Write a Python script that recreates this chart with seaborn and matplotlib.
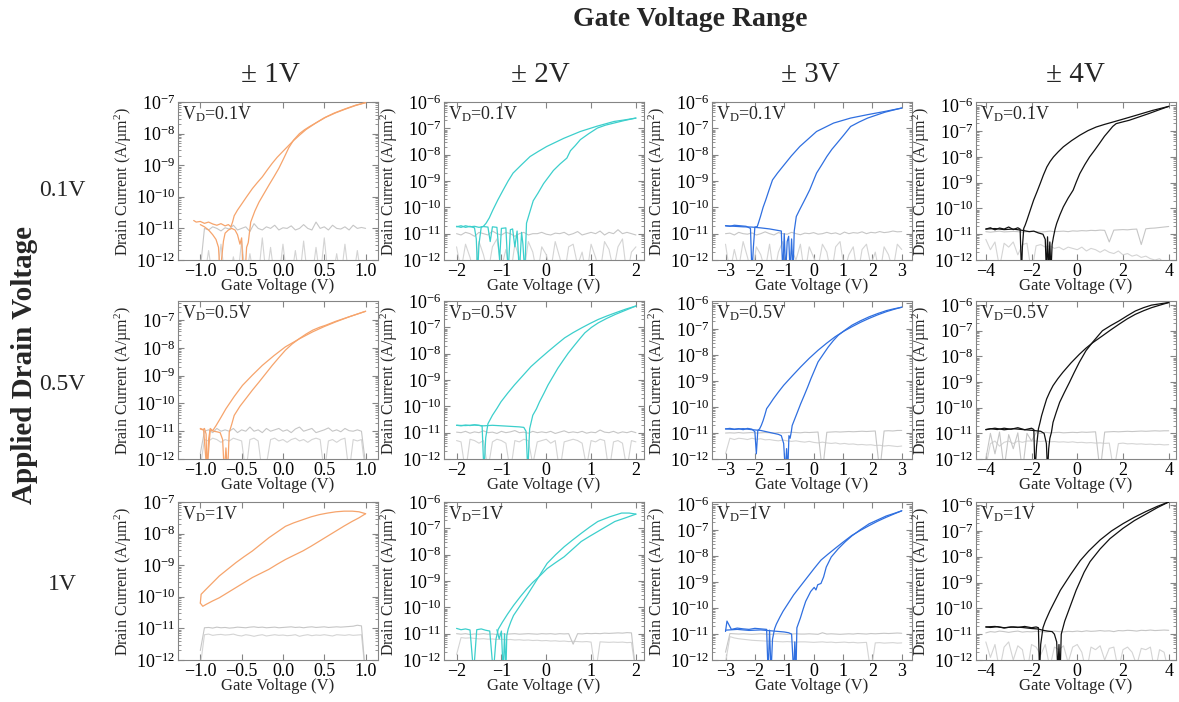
import numpy as np
import matplotlib
matplotlib.use("Agg")
import matplotlib.pyplot as plt
import seaborn as sns
from matplotlib.ticker import LogLocator, NullFormatter

sns.set_style("ticks")
plt.rcParams['font.family'] = ['Liberation Serif', 'DejaVu Serif']
plt.rcParams['mathtext.fontset'] = 'custom'
plt.rcParams['mathtext.rm'] = 'Liberation Serif'
plt.rcParams['mathtext.it'] = 'Liberation Serif:italic'
plt.rcParams['mathtext.bf'] = 'Liberation Serif:bold'
plt.rcParams['axes.unicode_minus'] = True

# ---------------- text ----------------
SUPER_TITLE = "Gate Voltage Range"
COL_TITLES = ["\u00b1 1V", "\u00b1 2V", "\u00b1 3V", "\u00b1 4V"]
ROW_TITLES = ["0.1V", "0.5V", "1V"]
ROW_SIDE_TITLE = "Applied Drain Voltage"
VD_LABELS = ["V$_\\mathrm{D}$=0.1V", "V$_\\mathrm{D}$=0.5V", "V$_\\mathrm{D}$=1V"]
COLORS = ["#f6a46c", "#3ccfcc", "#2f6fe0", "#111111"]
XTICKS = [[-1.0, -0.5, 0.0, 0.5, 1.0], [-2, -1, 0, 1, 2], [-3, -2, -1, 0, 1, 2, 3], [-4, -2, 0, 2, 4]]

# ---------------- sweep voltage grids for gate-leakage traces ----------------
GRID_C1 = [-1.0, -0.95, -0.9, -0.85, -0.8, -0.75, -0.7, -0.65, -0.6, -0.55, -0.5, -0.45, -0.4, -0.35, -0.3, -0.25, -0.2, -0.15, -0.1, -0.05, 0.0, 0.05, 0.1, 0.15, 0.2, 0.25, 0.3, 0.35, 0.4, 0.45, 0.5, 0.55, 0.6, 0.65, 0.7, 0.75, 0.8, 0.85, 0.9, 0.95, 1.0]
GRID_C2 = [-2.0, -1.9, -1.8, -1.7, -1.6, -1.5, -1.4, -1.3, -1.2, -1.1, -1.0, -0.9, -0.8, -0.7, -0.6, -0.5, -0.4, -0.3, -0.2, -0.1, 0.0, 0.1, 0.2, 0.3, 0.4, 0.5, 0.6, 0.7, 0.8, 0.9, 1.0, 1.1, 1.2, 1.3, 1.4, 1.5, 1.6, 1.7, 1.8, 1.9, 2.0]
GRID_C3 = [-3.0, -2.85, -2.7, -2.55, -2.4, -2.25, -2.1, -1.95, -1.8, -1.65, -1.5, -1.35, -1.2, -1.05, -0.9, -0.75, -0.6, -0.45, -0.3, -0.15, 0.0, 0.15, 0.3, 0.45, 0.6, 0.75, 0.9, 1.05, 1.2, 1.35, 1.5, 1.65, 1.8, 1.95, 2.1, 2.25, 2.4, 2.55, 2.7, 2.85, 3.0]
GRID_C4 = [-4.0, -3.8, -3.6, -3.4, -3.2, -3.0, -2.8, -2.6, -2.4, -2.2, -2.0, -1.8, -1.6, -1.4, -1.2, -1.0, -0.8, -0.6, -0.4, -0.2, 0.0, 0.2, 0.4, 0.6, 0.8, 1.0, 1.2, 1.4, 1.6, 1.8, 2.0, 2.2, 2.4, 2.6, 2.8, 3.0, 3.2, 3.4, 3.6, 3.8, 4.0]

# ---------------- drain current (log10 A/um^2) ----------------
# Row 1 (VD = 0.1 V)
R1C1_A_V = [1.0, 0.88, 0.76, 0.64, 0.52, 0.4, 0.28, 0.2, 0.12, 0.06, 0.0, -0.07, -0.13, -0.19, -0.25, -0.31, -0.37, -0.44, -0.5, -0.55, -0.59, -0.61, -0.63, -0.66, -0.7, -0.75, -0.8, -0.85, -0.9, -0.95, -1.0, -1.05, -1.08]
R1C1_A_I = [-7.02, -7.11, -7.22, -7.34, -7.48, -7.66, -7.87, -8.05, -8.24, -8.4, -8.56, -8.75, -8.94, -9.15, -9.37, -9.55, -9.74, -10.0, -10.23, -10.42, -10.6, -10.8, -10.95, -10.88, -10.92, -10.85, -10.9, -10.86, -10.8, -10.84, -10.78, -10.8, -10.75]
R1C1_B_V = [-1.0, -0.95, -0.9, -0.85, -0.81, -0.78, -0.76, -0.74, -0.72, -0.7, -0.66, -0.62, -0.58, -0.55, -0.52, -0.5, -0.48, -0.46, -0.44, -0.42, -0.39, -0.34, -0.29, -0.23, -0.17, -0.11, -0.05, 0.01, 0.07, 0.13, 0.2, 0.26, 0.32, 0.4, 0.5, 0.62, 0.75, 0.88, 1.0]
R1C1_B_I = [-10.88, -10.95, -11.05, -11.2, -11.35, -11.6, -12.5, -11.9, -11.4, -11.15, -11.05, -11.0, -11.05, -11.2, -11.5, -11.3, -12.5, -12.5, -11.6, -11.45, -10.8, -10.45, -10.17, -9.9, -9.63, -9.37, -9.1, -8.78, -8.45, -8.2, -8.0, -7.88, -7.78, -7.66, -7.5, -7.35, -7.22, -7.1, -7.02]
R1C1_GA = [-12.3, -11.0, -11.05, -10.95, -11.0, -11.08, -10.98, -11.02, -10.9, -11.05, -11.0, -10.95, -11.1, -10.85, -11.0, -11.05, -10.95, -11.0, -10.9, -11.05, -10.98, -11.0, -10.92, -11.05, -11.0, -10.88, -11.0, -11.05, -10.8, -11.0, -10.95, -11.05, -10.9, -11.0, -11.02, -10.95, -11.05, -10.9, -11.0, -10.97, -11.0]
R1C1_GB = [-12.0, -12.6, -11.7, -12.6, -12.6, -11.5, -12.6, -12.6, -11.9, -12.6, -11.4, -12.6, -11.8, -12.6, -12.6, -11.3, -12.6, -11.6, -12.6, -12.6, -11.5, -12.6, -12.6, -11.7, -12.6, -11.4, -12.6, -12.6, -11.6, -12.6, -11.3, -12.6, -12.6, -11.8, -12.6, -11.5, -12.6, -12.6, -11.7, -12.6, -12.6]

R1C2_A_V = [2.0, 1.75, 1.51, 1.13, 0.76, 0.39, 0.01, -0.18, -0.36, -0.55, -0.74, -0.85, -0.96, -1.08, -1.19, -1.27, -1.34, -1.4, -1.45, -1.5, -1.53, -1.56, -1.6, -1.7, -1.8, -1.9, -2.0]
R1C2_A_I = [-6.61, -6.68, -6.74, -6.92, -7.12, -7.38, -7.69, -7.88, -8.07, -8.38, -8.7, -9.0, -9.34, -9.72, -10.1, -10.4, -10.6, -10.72, -10.75, -11.4, -12.5, -11.2, -10.78, -10.72, -10.76, -10.7, -10.74]
R1C2_B_V = [-2.0, -1.9, -1.8, -1.7, -1.6, -1.5, -1.4, -1.3, -1.25, -1.2, -1.1, -1.04, -1.0, -0.9, -0.85, -0.8, -0.75, -0.7, -0.65, -0.6, -0.55, -0.52, -0.48, -0.44, -0.37, -0.29, -0.18, -0.06, 0.05, 0.16, 0.31, 0.46, 0.54, 0.65, 0.76, 0.95, 1.14, 1.32, 1.51, 1.75, 2.0]
R1C2_B_I = [-10.72, -10.76, -10.7, -10.74, -10.72, -10.76, -10.73, -10.75, -11.3, -10.74, -10.76, -12.0, -10.8, -10.78, -12.5, -10.85, -10.82, -11.5, -10.9, -12.5, -10.95, -11.4, -12.5, -10.6, -10.2, -9.75, -9.45, -9.1, -8.85, -8.6, -8.35, -8.13, -7.85, -7.65, -7.43, -7.2, -6.99, -6.88, -6.8, -6.7, -6.61]
R1C2_GA = [-11.0, -11.05, -10.95, -11.0, -11.1, -10.95, -11.0, -11.05, -10.9, -11.0, -11.05, -10.95, -11.0, -11.1, -11.0, -10.95, -11.05, -11.0, -11.0, -10.95, -11.02, -11.05, -10.98, -11.0, -10.95, -11.05, -11.0, -10.92, -11.05, -11.0, -10.95, -11.0, -10.9, -11.05, -10.95, -11.0, -10.85, -11.0, -10.95, -11.0, -11.05]
R1C2_GB = [-11.5, -12.4, -11.4, -11.9, -12.6, -11.3, -11.8, -12.5, -11.5, -11.2, -12.3, -11.6, -12.6, -11.4, -11.9, -12.5, -11.3, -11.7, -12.6, -11.5, -11.8, -12.4, -11.3, -11.9, -12.6, -11.5, -11.4, -12.2, -11.7, -12.6, -11.4, -11.9, -12.5, -11.3, -11.6, -12.4, -11.5, -11.2, -12.6, -11.7, -11.5]

R1C3_A_V = [3.0, 2.42, 1.84, 1.26, 0.68, 0.1, -0.47, -0.76, -1.05, -1.23, -1.4, -1.52, -1.63, -1.72, -1.81, -1.88, -1.92, -2.0, -2.05, -2.1, -2.15, -2.3, -2.5, -2.7, -2.85, -3.0]
R1C3_A_I = [-6.23, -6.36, -6.48, -6.61, -6.8, -7.12, -7.69, -8.05, -8.45, -8.7, -8.96, -9.35, -9.72, -10.0, -10.35, -10.6, -10.73, -10.75, -11.5, -12.5, -10.8, -10.72, -10.7, -10.68, -10.72, -10.7]
R1C3_B_V = [-3.0, -2.7, -2.4, -2.1, -1.8, -1.5, -1.3, -1.1, -1.05, -1.0, -0.95, -0.9, -0.85, -0.8, -0.75, -0.7, -0.66, -0.59, -0.48, -0.36, -0.25, -0.13, -0.01, 0.1, 0.28, 0.45, 0.62, 0.8, 1.03, 1.26, 1.55, 1.84, 2.13, 2.42, 2.7, 3.0]
R1C3_B_I = [-10.7, -10.72, -10.74, -10.75, -10.78, -10.82, -10.86, -10.9, -12.5, -11.0, -12.5, -11.3, -11.1, -12.5, -11.2, -12.5, -10.9, -10.35, -10.1, -9.84, -9.6, -9.33, -9.0, -8.7, -8.38, -8.07, -7.8, -7.56, -7.25, -6.93, -6.76, -6.61, -6.5, -6.39, -6.31, -6.23]
R1C3_GA = [-11.0, -10.98, -11.05, -10.95, -11.0, -11.02, -10.97, -11.05, -11.0, -10.93, -11.0, -11.05, -10.96, -11.0, -11.02, -10.95, -11.0, -11.04, -10.98, -11.0, -10.96, -11.02, -11.0, -10.95, -11.0, -10.97, -11.03, -10.94, -11.0, -10.96, -10.98, -10.93, -11.0, -10.95, -10.97, -10.92, -10.96, -10.94, -10.9, -10.93, -10.92]
R1C3_GB = [-11.4, -12.5, -11.6, -12.3, -11.3, -11.9, -12.6, -11.5, -11.8, -12.4, -11.4, -12.6, -11.7, -11.3, -12.5, -11.6, -12.0, -11.4, -12.6, -11.5, -11.9, -12.3, -11.4, -11.7, -12.6, -11.5, -11.3, -12.4, -11.8, -11.5, -12.6, -11.6, -11.4, -12.2, -11.7, -12.6, -11.5, -11.8, -12.4, -11.4, -11.6]

R1C4_A_V = [4.0, 3.28, 2.56, 2.06, 1.55, 1.19, 0.83, 0.47, 0.11, -0.25, -0.61, -0.83, -1.04, -1.19, -1.33, -1.48, -1.62, -1.76, -1.91, -2.05, -2.2, -2.28, -2.34, -2.4, -2.44, -2.5, -2.6, -2.8, -3.0, -3.2, -3.4, -3.6, -3.8, -4.0]
R1C4_A_I = [-6.04, -6.2, -6.39, -6.52, -6.65, -6.74, -6.84, -6.98, -7.16, -7.37, -7.61, -7.8, -8.0, -8.18, -8.39, -8.7, -9.03, -9.35, -9.68, -10.05, -10.45, -10.65, -10.77, -11.5, -12.5, -10.8, -10.75, -10.82, -10.72, -10.8, -10.76, -10.83, -10.75, -10.8]
R1C4_B_V = [-4.0, -3.6, -3.2, -2.8, -2.4, -2.1, -1.9, -1.7, -1.5, -1.4, -1.35, -1.3, -1.25, -1.2, -1.15, -1.1, -1.04, -0.97, -0.9, -0.76, -0.61, -0.4, -0.18, -0.04, 0.11, 0.33, 0.54, 0.76, 0.97, 1.19, 1.41, 1.55, 1.7, 2.0, 2.27, 2.7, 3.13, 3.56, 4.0]
R1C4_B_I = [-10.8, -10.78, -10.82, -10.8, -10.85, -10.9, -10.88, -10.95, -11.0, -11.2, -12.5, -11.1, -12.5, -11.3, -12.5, -11.4, -11.1, -10.8, -10.58, -10.25, -9.94, -9.6, -9.29, -8.97, -8.65, -8.3, -8.0, -7.74, -7.48, -7.2, -6.97, -6.82, -6.71, -6.64, -6.58, -6.45, -6.32, -6.18, -6.04]
R1C4_GA = [-10.9, -10.92, -10.9, -10.88, -10.91, -10.9, -10.89, -10.9, -10.92, -10.9, -10.89, -10.9, -10.91, -10.9, -10.88, -10.9, -10.89, -10.88, -10.9, -10.87, -10.88, -10.86, -10.87, -10.85, -10.86, -10.84, -10.85, -11.3, -10.84, -10.83, -10.82, -10.83, -10.81, -10.8, -11.4, -10.79, -10.77, -10.76, -10.74, -10.72, -10.7]
R1C4_GB = [-11.2, -11.6, -11.3, -12.3, -11.35, -11.5, -11.3, -11.8, -11.4, -11.35, -12.5, -11.45, -11.4, -11.5, -11.45, -11.55, -11.5, -11.6, -11.5, -11.55, -11.6, -11.5, -11.65, -11.55, -11.6, -11.7, -11.6, -11.7, -11.75, -11.65, -11.8, -11.75, -11.85, -11.8, -11.9, -11.85, -11.95, -12.0, -11.95, -12.1, -12.5]

# Row 2 (VD = 0.5 V)
R2C1_A_V = [1.0, 0.96, 0.8, 0.64, 0.5, 0.36, 0.2, 0.03, -0.11, -0.25, -0.37, -0.49, -0.59, -0.69, -0.75, -0.81, -0.85, -0.88, -0.9, -0.92, -0.93, -0.95, -0.97, -1.0]
R2C1_A_I = [-6.68, -6.72, -6.88, -7.06, -7.23, -7.42, -7.67, -7.96, -8.28, -8.63, -8.98, -9.35, -9.75, -10.19, -10.5, -10.8, -10.98, -10.9, -11.3, -12.5, -11.1, -10.9, -10.95, -10.92]
R2C1_B_V = [-1.0, -0.96, -0.92, -0.88, -0.84, -0.8, -0.76, -0.73, -0.71, -0.69, -0.67, -0.65, -0.62, -0.59, -0.52, -0.45, -0.37, -0.29, -0.21, -0.13, -0.05, 0.03, 0.11, 0.2, 0.28, 0.36, 0.44, 0.52, 0.64, 0.8, 0.96, 1.0]
R2C1_B_I = [-10.9, -10.95, -12.5, -10.95, -11.0, -11.02, -11.05, -11.3, -12.5, -11.6, -12.5, -11.04, -10.75, -10.43, -10.1, -9.83, -9.52, -9.23, -8.93, -8.63, -8.35, -8.08, -7.86, -7.66, -7.5, -7.36, -7.26, -7.18, -7.04, -6.88, -6.72, -6.68]
R2C1_GA = [-11.8, -11.0, -10.95, -11.05, -10.9, -11.0, -10.95, -11.0, -10.9, -11.05, -10.95, -11.0, -10.85, -11.0, -10.95, -11.05, -10.9, -11.0, -10.95, -10.9, -11.0, -10.95, -11.05, -10.92, -10.85, -11.0, -10.95, -10.9, -11.05, -11.0, -10.95, -10.88, -11.0, -10.95, -11.02, -10.9, -10.98, -11.0, -10.95, -11.0, -12.2]
R2C1_GB = [-12.3, -11.3, -11.35, -11.25, -11.3, -11.4, -11.3, -11.35, -11.25, -11.3, -11.35, -12.5, -11.3, -11.25, -11.35, -12.5, -12.2, -11.3, -11.25, -11.35, -11.3, -11.4, -11.3, -11.25, -11.35, -11.3, -11.4, -11.3, -11.25, -11.3, -12.5, -11.35, -11.3, -11.4, -11.3, -11.25, -12.5, -11.3, -11.35, -11.3, -12.5]

R2C2_A_V = [2.0, 1.77, 1.54, 1.35, 1.16, 0.98, 0.79, 0.6, 0.41, 0.23, 0.04, -0.15, -0.34, -0.52, -0.71, -0.86, -1.01, -1.1, -1.2, -1.25, -1.3, -1.35, -1.39, -1.43, -1.5, -1.6, -1.7, -1.8, -1.9, -2.0]
R2C2_A_I = [-6.19, -6.31, -6.45, -6.57, -6.7, -6.85, -7.02, -7.2, -7.4, -7.65, -7.92, -8.2, -8.49, -8.83, -9.19, -9.5, -9.83, -10.08, -10.34, -10.5, -10.66, -11.2, -12.5, -10.75, -10.72, -10.7, -10.73, -10.71, -10.74, -10.72]
R2C2_B_V = [-2.0, -1.8, -1.6, -1.4, -1.2, -1.0, -0.8, -0.6, -0.5, -0.45, -0.41, -0.39, -0.37, -0.3, -0.22, -0.15, -0.05, 0.04, 0.15, 0.26, 0.38, 0.49, 0.64, 0.75, 0.86, 1.01, 1.16, 1.35, 1.54, 1.77, 2.0]
R2C2_B_I = [-10.72, -10.73, -10.71, -10.74, -10.72, -10.74, -10.76, -10.78, -10.8, -10.95, -12.5, -11.6, -10.85, -10.34, -10.1, -9.83, -9.5, -9.19, -8.87, -8.55, -8.25, -7.98, -7.66, -7.43, -7.21, -7.0, -6.83, -6.66, -6.51, -6.35, -6.19]
R2C2_GA = [-10.98, -11.0, -10.95, -11.02, -10.97, -11.0, -10.93, -11.0, -10.98, -11.03, -10.95, -11.0, -10.97, -10.92, -11.0, -10.98, -11.02, -10.95, -11.0, -10.97, -11.0, -10.95, -11.03, -10.98, -10.93, -11.0, -10.97, -11.0, -10.95, -11.02, -10.98, -11.0, -10.9, -10.98, -11.0, -10.95, -11.02, -10.97, -11.0, -10.95, -11.0]
R2C2_GB = [-11.3, -11.35, -12.5, -11.25, -11.3, -11.4, -11.3, -12.4, -11.35, -11.25, -11.3, -11.4, -12.5, -11.3, -11.35, -11.25, -11.3, -12.2, -11.35, -11.3, -11.25, -11.4, -11.3, -12.5, -11.35, -11.3, -11.25, -11.3, -11.4, -12.3, -11.3, -11.35, -11.25, -11.3, -12.5, -11.35, -11.3, -11.4, -12.4, -11.3, -11.35]

R2C3_A_V = [3.0, 2.74, 2.48, 2.19, 1.89, 1.6, 1.31, 1.02, 0.73, 0.44, 0.15, -0.15, -0.44, -0.73, -1.02, -1.2, -1.37, -1.5, -1.6, -1.66, -1.72, -1.78, -1.84, -1.9, -1.95, -2.0, -2.1, -2.25, -2.4, -2.55, -2.7, -2.85, -3.0]
R2C3_A_I = [-6.15, -6.23, -6.32, -6.44, -6.58, -6.73, -6.9, -7.08, -7.29, -7.54, -7.81, -8.12, -8.45, -8.8, -9.16, -9.42, -9.68, -9.9, -10.06, -10.3, -10.52, -10.7, -10.84, -10.9, -11.8, -10.95, -10.85, -10.82, -10.87, -10.83, -10.85, -10.82, -10.84]
R2C3_B_V = [-3.0, -2.7, -2.4, -2.1, -1.8, -1.6, -1.4, -1.2, -1.1, -1.02, -0.96, -0.92, -0.88, -0.84, -0.8, -0.76, -0.73, -0.64, -0.55, -0.44, -0.32, -0.2, -0.09, 0.03, 0.15, 0.33, 0.5, 0.67, 0.84, 1.07, 1.31, 1.6, 1.89, 2.19, 2.48, 2.74, 3.0]
R2C3_B_I = [-10.84, -10.86, -10.83, -10.87, -10.9, -10.95, -11.0, -11.05, -11.1, -11.4, -12.5, -11.6, -12.5, -11.1, -11.2, -10.95, -10.71, -10.45, -10.19, -9.87, -9.55, -9.22, -8.9, -8.58, -8.26, -7.96, -7.68, -7.44, -7.23, -7.03, -6.84, -6.67, -6.52, -6.39, -6.28, -6.21, -6.15]
R2C3_GA = [-11.0, -10.99, -11.0, -10.98, -11.0, -10.99, -10.98, -11.0, -10.99, -10.98, -10.99, -11.0, -10.98, -10.99, -10.98, -10.97, -10.98, -10.99, -10.97, -10.98, -10.97, -10.96, -12.5, -10.97, -10.96, -10.95, -10.96, -10.95, -10.94, -10.95, -10.94, -10.93, -10.94, -10.93, -10.92, -12.5, -10.92, -10.91, -10.92, -10.9, -10.9]
R2C3_GB = [-11.8, -11.2, -11.25, -11.2, -11.22, -11.25, -11.2, -11.24, -11.22, -11.26, -11.25, -11.28, -11.3, -11.27, -11.3, -11.32, -11.3, -11.33, -11.35, -11.32, -11.36, -11.38, -11.35, -11.38, -11.4, -11.38, -11.42, -11.4, -11.43, -11.42, -11.45, -11.44, -11.46, -11.45, -11.48, -11.47, -11.5, -11.48, -11.5, -11.52, -11.5]

R2C4_A_V = [4.0, 3.62, 3.25, 2.9, 2.54, 2.18, 1.82, 1.46, 1.1, 0.67, 0.38, 0.09, -0.27, -0.63, -0.85, -1.06, -1.2, -1.34, -1.45, -1.56, -1.63, -1.7, -1.78, -1.85, -1.9, -2.0, -2.3, -2.6, -2.9, -3.2, -3.5, -3.8, -4.0]
R2C4_A_I = [-5.9, -6.0, -6.1, -6.22, -6.36, -6.54, -6.75, -6.97, -7.2, -7.47, -7.68, -7.92, -8.25, -8.62, -8.87, -9.14, -9.38, -9.66, -9.98, -10.31, -10.58, -10.83, -11.5, -12.5, -10.85, -10.8, -10.86, -10.78, -10.84, -10.8, -10.85, -10.82, -10.86]
R2C4_B_V = [-4.0, -3.6, -3.2, -2.8, -2.4, -2.0, -1.8, -1.6, -1.45, -1.35, -1.3, -1.25, -1.2, -1.13, -1.06, -0.92, -0.77, -0.56, -0.34, -0.13, 0.09, 0.38, 0.67, 1.1, 1.46, 1.82, 2.18, 2.54, 2.9, 3.25, 3.62, 4.0]
R2C4_B_I = [-10.85, -10.8, -10.86, -10.82, -10.85, -10.88, -10.9, -10.92, -11.0, -11.4, -12.5, -11.6, -11.2, -10.96, -10.57, -10.18, -9.79, -9.4, -9.01, -8.62, -8.23, -7.78, -7.45, -7.0, -6.8, -6.62, -6.42, -6.23, -6.1, -6.0, -5.95, -5.9]
R2C4_GA = [-12.0, -11.0, -11.8, -10.95, -12.4, -11.05, -11.6, -10.98, -12.5, -11.0, -11.3, -10.97, -11.0, -10.96, -10.98, -10.97, -10.96, -10.98, -10.97, -10.96, -10.97, -10.95, -10.96, -10.95, -10.94, -12.5, -10.95, -10.94, -10.93, -10.94, -10.93, -10.92, -10.93, -10.92, -10.91, -10.92, -10.91, -10.9, -10.91, -10.9, -10.9]
R2C4_GB = [-12.3, -11.4, -11.3, -11.5, -11.35, -11.3, -11.4, -11.3, -11.35, -11.3, -11.3, -11.3, -11.32, -11.3, -11.33, -11.32, -11.34, -11.33, -11.35, -11.33, -11.36, -11.35, -11.37, -11.36, -11.38, -11.37, -11.39, -11.38, -12.5, -11.4, -11.38, -11.41, -11.4, -11.42, -11.41, -11.43, -11.42, -11.44, -11.43, -11.45, -11.44]

# Row 3 (VD = 1 V)
R3C1_A_V = [-1.0, -0.99, -0.93, -0.85, -0.77, -0.67, -0.57, -0.47, -0.37, -0.27, -0.17, -0.07, 0.03, 0.13, 0.24, 0.34, 0.44, 0.54, 0.64, 0.74, 0.84, 0.92, 1.0]
R3C1_A_I = [-10.2, -9.92, -9.76, -9.55, -9.34, -9.13, -8.92, -8.73, -8.55, -8.34, -8.13, -7.95, -7.77, -7.66, -7.56, -7.47, -7.4, -7.35, -7.31, -7.29, -7.29, -7.31, -7.37]
R3C1_B_V = [1.0, 0.92, 0.84, 0.74, 0.64, 0.54, 0.44, 0.34, 0.24, 0.13, 0.03, -0.07, -0.17, -0.27, -0.37, -0.47, -0.57, -0.67, -0.77, -0.85, -0.93, -0.97, -1.0]
R3C1_B_I = [-7.37, -7.5, -7.61, -7.76, -7.92, -8.08, -8.24, -8.4, -8.55, -8.69, -8.82, -8.97, -9.13, -9.26, -9.39, -9.55, -9.71, -9.87, -10.03, -10.13, -10.24, -10.3, -10.2]
R3C1_GA = [-11.7, -10.98, -10.97, -10.99, -10.96, -10.98, -10.97, -10.99, -10.98, -10.96, -10.97, -10.98, -10.96, -10.95, -10.97, -10.96, -10.98, -10.97, -10.96, -10.98, -10.97, -10.96, -10.95, -10.97, -10.96, -10.98, -10.96, -10.95, -10.97, -10.96, -10.95, -10.97, -10.96, -10.95, -10.96, -10.95, -10.94, -10.93, -10.9, -10.92, -12.5]
R3C1_GB = [-12.2, -11.2, -11.18, -11.22, -11.2, -11.19, -11.21, -11.2, -11.18, -11.22, -11.24, -11.2, -11.22, -11.25, -11.22, -11.2, -11.24, -11.22, -11.2, -11.22, -11.21, -11.23, -11.22, -11.2, -11.25, -11.22, -11.2, -11.23, -11.21, -11.22, -11.2, -11.22, -11.24, -11.2, -11.21, -11.22, -11.2, -11.22, -11.21, -11.2, -12.5]

R3C2_A_V = [2.0, 1.85, 1.68, 1.42, 1.15, 0.97, 0.78, 0.59, 0.4, 0.21, 0.02, -0.08, -0.17, -0.3, -0.43, -0.58, -0.73, -0.79, -0.85, -0.88, -0.9, -0.93, -0.96, -1.0, -1.05, -1.1]
R3C2_A_I = [-6.46, -6.42, -6.42, -6.56, -6.74, -6.95, -7.19, -7.44, -7.7, -8.0, -8.33, -8.6, -8.85, -9.2, -9.55, -9.93, -10.31, -10.55, -10.83, -11.08, -12.5, -11.0, -12.5, -10.9, -11.2, -10.85]
R3C2_B_V = [-2.0, -1.9, -1.8, -1.7, -1.62, -1.55, -1.45, -1.35, -1.26, -1.18, -1.12, -1.07, -0.98, -0.86, -0.73, -0.58, -0.43, -0.3, -0.17, -0.08, 0.02, 0.21, 0.4, 0.59, 0.78, 0.97, 1.15, 1.34, 1.53, 1.77, 2.0]
R3C2_B_I = [-10.8, -10.85, -10.82, -10.86, -12.5, -10.85, -10.82, -10.87, -10.9, -12.5, -11.2, -10.83, -10.57, -10.25, -9.93, -9.6, -9.29, -9.05, -8.85, -8.7, -8.53, -8.3, -8.08, -7.79, -7.5, -7.3, -7.12, -6.93, -6.74, -6.6, -6.46]
R3C2_GA = [-11.0, -11.02, -11.0, -11.03, -11.01, -11.02, -11.0, -11.02, -11.01, -11.03, -11.0, -11.02, -11.01, -11.0, -11.02, -11.01, -11.0, -11.01, -11.02, -11.0, -11.01, -11.0, -11.02, -11.0, -11.01, -11.0, -11.4, -11.0, -11.01, -10.99, -11.0, -10.99, -11.0, -10.98, -10.99, -10.98, -10.97, -10.98, -10.96, -10.97, -12.5]
R3C2_GB = [-11.8, -11.15, -11.17, -11.16, -11.18, -11.2, -11.19, -11.21, -11.2, -11.22, -11.21, -11.23, -11.22, -11.24, -11.23, -11.25, -11.24, -11.26, -11.25, -11.27, -11.26, -11.28, -11.27, -11.29, -11.28, -11.3, -11.29, -11.3, -11.31, -11.3, -11.32, -12.5, -11.31, -11.32, -11.33, -11.32, -11.33, -11.32, -11.34, -11.33, -12.5]

R3C3_A_V = [3.0, 2.74, 2.47, 2.18, 1.89, 1.6, 1.3, 1.01, 0.72, 0.48, 0.25, 0.02, -0.33, -0.68, -1.04, -1.15, -1.27, -1.33, -1.4, -1.45, -1.5, -1.55, -1.6, -1.8, -2.0, -2.2, -2.4, -2.6, -2.8, -2.95, -3.0]
R3C3_A_I = [-6.25, -6.37, -6.5, -6.65, -6.82, -7.0, -7.2, -7.45, -7.71, -7.93, -8.15, -8.47, -8.98, -9.49, -10.12, -10.35, -10.62, -10.8, -11.2, -12.5, -10.85, -12.5, -10.82, -10.8, -10.78, -10.82, -10.8, -10.77, -10.82, -10.5, -10.9]
R3C3_B_V = [-3.0, -2.6, -2.2, -1.8, -1.4, -1.2, -1.0, -0.85, -0.75, -0.68, -0.64, -0.6, -0.57, -0.45, -0.36, -0.27, -0.1, 0.02, 0.08, 0.14, 0.25, 0.34, 0.43, 0.6, 0.84, 1.07, 1.3, 1.6, 1.89, 2.18, 2.47, 2.74, 3.0]
R3C3_B_I = [-10.85, -10.82, -10.86, -10.84, -10.88, -10.9, -10.92, -10.95, -11.0, -12.5, -11.3, -12.5, -10.76, -10.38, -10.05, -9.74, -9.36, -9.2, -9.3, -9.1, -9.05, -8.8, -8.42, -8.03, -7.71, -7.45, -7.22, -6.97, -6.75, -6.6, -6.45, -6.35, -6.25]
R3C3_GA = [-11.7, -10.98, -10.99, -11.0, -10.99, -11.0, -11.01, -11.0, -10.99, -11.0, -11.01, -11.0, -10.99, -11.0, -11.01, -11.0, -10.99, -11.0, -11.0, -10.99, -11.0, -11.01, -10.95, -11.0, -10.99, -11.0, -11.01, -11.0, -10.99, -11.0, -10.98, -10.99, -11.0, -10.98, -10.99, -10.98, -10.97, -10.98, -10.97, -10.96, -10.97]
R3C3_GB = [-12.1, -11.1, -11.15, -11.18, -11.2, -11.22, -11.24, -11.25, -11.26, -11.27, -11.28, -11.28, -11.29, -11.3, -11.29, -11.3, -11.31, -11.3, -11.3, -11.31, -11.32, -11.31, -11.3, -11.32, -11.31, -11.33, -11.32, -11.31, -11.33, -11.32, -11.34, -11.33, -11.32, -12.5, -11.34, -11.33, -11.35, -11.34, -11.33, -11.35, -11.34]

R3C4_A_V = [4.0, 3.5, 3.0, 2.5, 2.0, 1.5, 1.0, 0.5, 0.13, -0.3, -0.74, -1.0, -1.2, -1.4, -1.5, -1.6, -1.65, -1.7, -1.8, -2.0, -2.3, -2.6, -2.9, -3.2, -3.5, -3.8, -4.0]
R3C4_A_I = [-5.88, -6.05, -6.25, -6.47, -6.72, -7.0, -7.35, -7.78, -8.15, -8.7, -9.3, -9.75, -10.1, -10.5, -10.75, -11.4, -12.5, -10.75, -10.72, -10.75, -10.7, -10.74, -10.72, -10.76, -10.71, -10.74, -10.72]
R3C4_B_V = [-4.0, -3.6, -3.2, -2.8, -2.4, -2.0, -1.7, -1.5, -1.3, -1.1, -1.0, -0.9, -0.85, -0.8, -0.75, -0.7, -0.55, -0.3, -0.05, 0.3, 0.56, 1.0, 1.43, 2.0, 2.5, 3.0, 3.5, 4.0]
R3C4_B_I = [-10.72, -10.7, -10.75, -10.72, -10.74, -10.78, -10.8, -10.85, -10.88, -10.9, -11.0, -11.3, -12.5, -11.4, -12.5, -11.0, -10.5, -9.9, -9.3, -8.6, -8.19, -7.7, -7.3, -6.9, -6.6, -6.35, -6.1, -5.88]
R3C4_GA = [-10.95, -10.9, -10.92, -10.88, -10.9, -10.93, -10.9, -10.88, -10.92, -10.9, -10.91, -10.89, -10.9, -10.92, -10.9, -10.88, -10.9, -10.91, -10.89, -10.9, -10.88, -10.9, -10.87, -10.89, -10.88, -10.86, -10.88, -10.87, -10.9, -10.86, -10.87, -10.85, -10.86, -10.88, -10.85, -10.86, -10.84, -10.86, -10.85, -10.84, -10.85]
R3C4_GB = [-11.3, -11.9, -11.4, -12.4, -11.5, -11.3, -12.0, -11.45, -11.6, -12.5, -11.4, -11.5, -11.8, -11.4, -12.3, -11.5, -11.6, -11.45, -12.1, -11.5, -11.4, -11.7, -12.5, -11.5, -11.6, -11.45, -12.0, -11.55, -11.5, -12.4, -11.6, -11.5, -11.7, -12.2, -11.55, -11.6, -11.5, -12.5, -11.6, -11.7, -12.5]

# axis ranges (log10 of upper y limit; x limits)
YTOP = [[-7.0, -6.0, -6.0, -5.87], [-6.31, -6.0, -5.91, -5.84], [-7.0, -6.0, -5.91, -5.88]]
XLIMS = [(-1.27, 1.15), (-2.28, 2.18), (-3.46, 3.35), (-4.43, 4.32)]

GRIDS = [GRID_C1, GRID_C2, GRID_C3, GRID_C4]
PANELS = [
    [(R1C1_A_V, R1C1_A_I, R1C1_B_V, R1C1_B_I, R1C1_GA, R1C1_GB),
     (R1C2_A_V, R1C2_A_I, R1C2_B_V, R1C2_B_I, R1C2_GA, R1C2_GB),
     (R1C3_A_V, R1C3_A_I, R1C3_B_V, R1C3_B_I, R1C3_GA, R1C3_GB),
     (R1C4_A_V, R1C4_A_I, R1C4_B_V, R1C4_B_I, R1C4_GA, R1C4_GB)],
    [(R2C1_A_V, R2C1_A_I, R2C1_B_V, R2C1_B_I, R2C1_GA, R2C1_GB),
     (R2C2_A_V, R2C2_A_I, R2C2_B_V, R2C2_B_I, R2C2_GA, R2C2_GB),
     (R2C3_A_V, R2C3_A_I, R2C3_B_V, R2C3_B_I, R2C3_GA, R2C3_GB),
     (R2C4_A_V, R2C4_A_I, R2C4_B_V, R2C4_B_I, R2C4_GA, R2C4_GB)],
    [(R3C1_A_V, R3C1_A_I, R3C1_B_V, R3C1_B_I, R3C1_GA, R3C1_GB),
     (R3C2_A_V, R3C2_A_I, R3C2_B_V, R3C2_B_I, R3C2_GA, R3C2_GB),
     (R3C3_A_V, R3C3_A_I, R3C3_B_V, R3C3_B_I, R3C3_GA, R3C3_GB),
     (R3C4_A_V, R3C4_A_I, R3C4_B_V, R3C4_B_I, R3C4_GA, R3C4_GB)],
]

# ---------------- figure ----------------
FW, FH = 1179, 702
fig = plt.figure(figsize=(FW / 100, FH / 100), dpi=100)
LEFTS = [178, 444, 712, 976]
TOPS = [102, 301, 502]
AW, AH = 200, 158
SPINE = "#858585"


def draw(ax, xs, logs, color, lw, z):
    n = min(len(xs), len(logs))
    sns.lineplot(x=np.asarray(xs[:n], float), y=10.0 ** np.asarray(logs[:n], float),
                 ax=ax, color=color, linewidth=lw, sort=False, estimator=None,
                 legend=False, zorder=z)


for r in range(3):
    for c in range(4):
        ax = fig.add_axes([LEFTS[c] / FW, 1 - (TOPS[r] + AH) / FH, AW / FW, AH / FH])
        ax.set_yscale("log")
        av, ai, bv, bi, ga, gb = PANELS[r][c]
        draw(ax, GRIDS[c], gb, "#d4d4d4", 0.8, 1)
        draw(ax, GRIDS[c], ga, "#c6c6c6", 0.8, 2)
        draw(ax, av, ai, COLORS[c], 0.9, 3)
        draw(ax, bv, bi, COLORS[c], 0.9, 3)
        ax.set_xlim(*XLIMS[c])
        ax.set_ylim(1e-12, 10 ** YTOP[r][c])
        ax.set_xticks(XTICKS[c])
        ax.yaxis.set_major_locator(LogLocator(base=10, numticks=30))
        ax.yaxis.set_minor_locator(LogLocator(base=10, subs=np.arange(2, 10) * 1.0, numticks=100))
        ax.yaxis.set_minor_formatter(NullFormatter())
        ax.tick_params(which="both", direction="in", top=True, right=True,
                       color=SPINE, labelcolor="black", labelsize=13, pad=2)
        ax.tick_params(which="major", length=4, width=0.8)
        ax.tick_params(which="minor", length=2, width=0.6)
        for s in ax.spines.values():
            s.set_color(SPINE)
            s.set_linewidth(0.8)
        ax.set_xlabel("Gate Voltage (V)", fontsize=12, labelpad=-1)
        ax.set_ylabel("Drain Current (A/\u00b5m$^2$)", fontsize=11.5, labelpad=1)
        ax.text(0.02, 0.985, VD_LABELS[r], transform=ax.transAxes, ha="left", va="top",
                fontsize=13, zorder=5)

fig.text(690 / FW, 1 - 20 / FH, SUPER_TITLE, ha="center", va="center",
         fontsize=20, fontweight="bold")
COL_X = [270, 540, 810, 1075]
for c in range(4):
    fig.text(COL_X[c] / FW, 1 - 75 / FH, COL_TITLES[c], ha="center", va="center", fontsize=21)
ROW_Y = [190, 385, 585]
for r in range(3):
    fig.text(62 / FW, 1 - ROW_Y[r] / FH, ROW_TITLES[r], ha="center", va="center", fontsize=17)
fig.text(25 / FW, 1 - 365 / FH, ROW_SIDE_TITLE, ha="center", va="center", rotation=90,
         fontsize=21, fontweight="bold")

fig.savefig("out.png", dpi=100)
